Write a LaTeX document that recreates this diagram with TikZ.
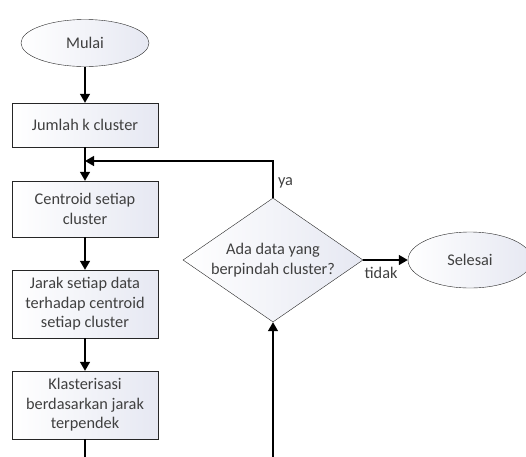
\documentclass[tikz,border=0pt]{standalone}
\usepackage{fontspec}
\setmainfont{Carlito}
\usepackage{xcolor}
\usetikzlibrary{shapes.geometric,arrows.meta}
\definecolor{boxshade}{RGB}{230,232,242}
\definecolor{boxtext}{RGB}{64,64,64}
\tikzset{
    process-box/.style = {draw=black!85, thin, rectangle, left color=white, right color=boxshade, text=boxtext, align=center, minimum width=146pt, inner sep=2pt},
    term-ellipse/.style = {draw=black!85, thin, ellipse, left color=white, right color=boxshade, text=boxtext, inner sep=0pt},
    decision-diamond/.style = {draw=black!85, thin, diamond, left color=white, right color=boxshade, text=boxtext, align=center, inner sep=0pt, shape aspect=1.45, minimum width=180pt, minimum height=124pt},
    flow-arrow/.style = {line width=1.4pt, -{Triangle[length=9pt,width=10pt]}},
    edge-label/.style = {text=boxtext},
}

\begin{document}
\begin{tikzpicture}[x=1pt, y=-1pt, font=\fontsize{16.3}{19.5}\selectfont]
\clip (0,0) rectangle (526,456);
\node [term-ellipse, minimum width=128pt, minimum height=47pt] (mulai) at (85,43) {Mulai};
\node [process-box, minimum height=44pt] (jumlah) at (85,125) {Jumlah k cluster};
\node [process-box, minimum height=56pt] (centroid) at (85,209) {Centroid setiap\\cluster};
\node [process-box, minimum height=68pt] (jarak) at (85,304) {Jarak setiap data\\terhadap centroid\\setiap cluster};
\node [process-box, minimum height=68pt] (klaster) at (85,405) {Klasterisasi\\berdasarkan jarak\\terpendek};
\node [decision-diamond] (cek) at (273,260) {Ada data yang\\berpindah cluster?};
\node [term-ellipse, minimum width=124pt, minimum height=56pt] (selesai) at (470,260) {Selesai};
\coordinate (gabung) at (85,161);
\coordinate (bawah-kiri) at (85,475);
\coordinate (bawah-kanan) at (273,475);

\draw [flow-arrow] (mulai) -- (jumlah);
\draw [flow-arrow] (jumlah) -- (centroid);
\draw [flow-arrow] (centroid) -- (jarak);
\draw [flow-arrow] (jarak) -- (klaster);
\draw [flow-arrow] (cek.north) |- node[edge-label, pos=0.2, right=1pt] {ya} (gabung);
\draw [flow-arrow] (cek.east) -- node[edge-label, pos=0.4, below=3pt] {tidak} (selesai.west);
\draw [flow-arrow] (klaster.south) -- (bawah-kiri) -- (bawah-kanan) -- (cek.south);
\end{tikzpicture}
\end{document}
